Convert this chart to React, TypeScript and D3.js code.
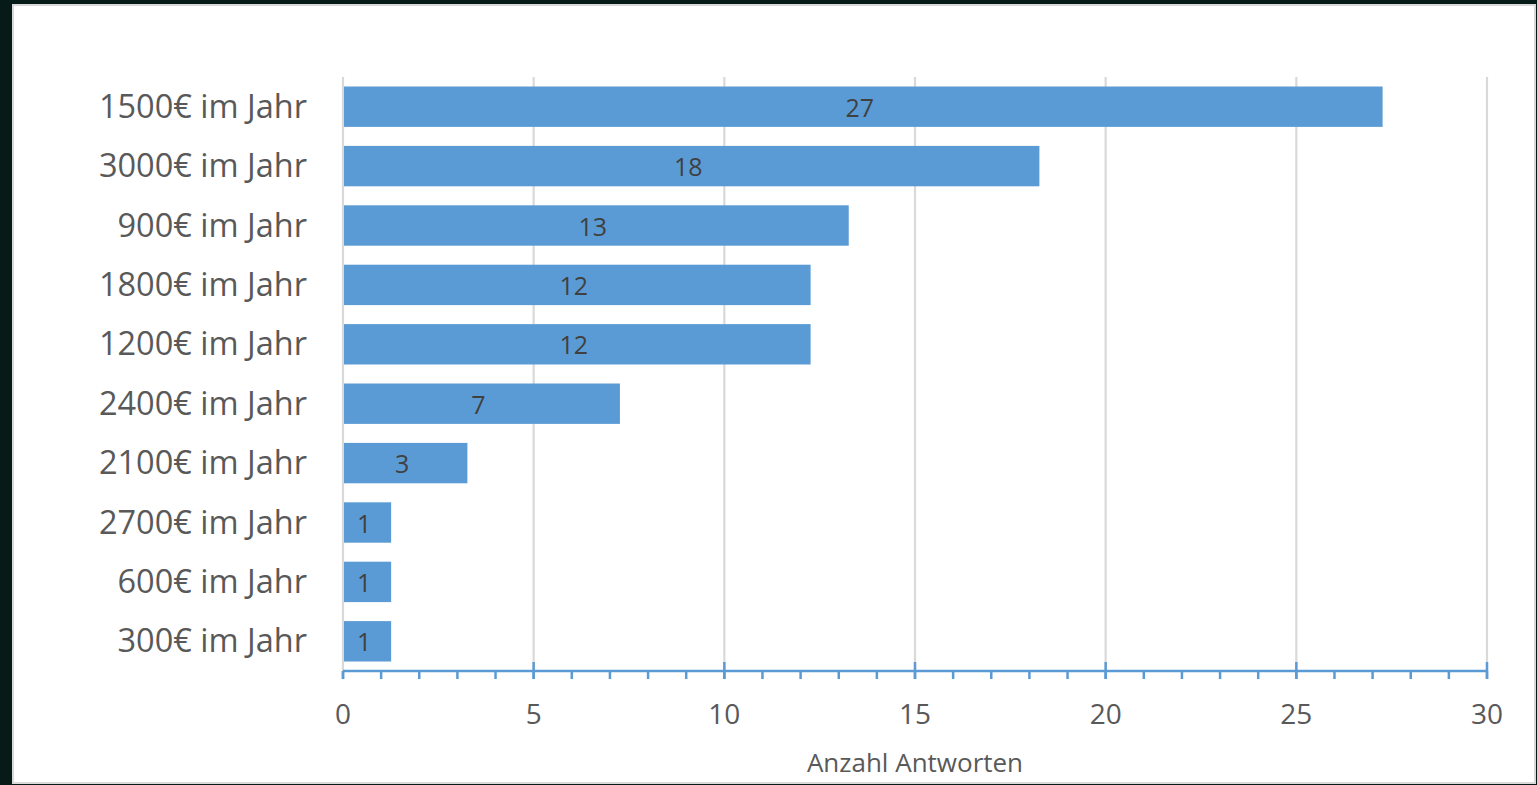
import React from "react";
import * as d3 from "d3";

const categories = [
  "1500€ im Jahr",
  "3000€ im Jahr",
  "900€ im Jahr",
  "1800€ im Jahr",
  "1200€ im Jahr",
  "2400€ im Jahr",
  "2100€ im Jahr",
  "2700€ im Jahr",
  "600€ im Jahr",
  "300€ im Jahr",
];
const values = [27, 18, 13, 12, 12, 7, 3, 1, 1, 1];
const majorTicks = [0, 5, 10, 15, 20, 25, 30];
const minorTicks = d3.range(0, 31, 1);
const axisTitle = "Anzahl Antworten";

const W = 1537;
const H = 785;
const FONT = "'Open Sans', 'Noto Sans', sans-serif";

export default function App() {
  const x = d3.scaleLinear().domain([0, 30]).range([343, 1487]);
  const y = d3
    .scaleBand<string>()
    .domain(categories)
    .range([77, 671])
    .paddingInner(0.32)
    .paddingOuter(0.16);
  const barExtra = 9;
  const axisY = 671;

  return (
    <div style={{ position: "fixed", left: 0, top: 0, width: W, height: H }}>
      <svg width={W} height={H} style={{ display: "block" }}>
        <rect x={0} y={0} width={W} height={H} fill="#061a18" />
        <rect x={13} y={5} width={1522} height={778} fill="#ffffff" stroke="#d9d9d9" strokeWidth={2} />
        {/* gridlines */}
        {majorTicks.map((t) => (
          <line key={"g" + t} x1={x(t)} x2={x(t)} y1={77} y2={axisY} stroke="#d9d9d9" strokeWidth={2.2} />
        ))}
        {/* bars */}
        {categories.map((c, i) => (
          <rect
            key={c}
            x={x(0) + 1}
            y={y(c)}
            width={x(values[i]) - x(0) + barExtra}
            height={y.bandwidth()}
            fill="#5b9bd5"
          />
        ))}
        {/* data labels */}
        {categories.map((c, i) => (
          <text
            key={"l" + c}
            x={(x(0) + x(values[i])) / 2 + 2}
            y={(y(c) as number) + y.bandwidth() / 2 + 1}
            dy="0.36em"
            textAnchor="middle"
            fontFamily={FONT}
            fontSize={25}
            fill="#404040"
          >
            {values[i]}
          </text>
        ))}
        {/* category labels */}
        {categories.map((c) => (
          <text
            key={"c" + c}
            x={307}
            y={(y(c) as number) + y.bandwidth() / 2}
            dy="0.34em"
            textAnchor="end"
            fontFamily={FONT}
            fontSize={32.5}
            fill="#595959"
          >
            {c}
          </text>
        ))}
        {/* x axis */}
        <line x1={x(0)} x2={x(30)} y1={axisY} y2={axisY} stroke="#5b9bd5" strokeWidth={2.5} />
        {minorTicks.map((t) => (
          <line key={"m" + t} x1={x(t)} x2={x(t)} y1={axisY} y2={axisY + 8} stroke="#5b9bd5" strokeWidth={2.5} />
        ))}
        {majorTicks.map((t) => (
          <line key={"M" + t} x1={x(t)} x2={x(t)} y1={t === 0 ? axisY : axisY - 9} y2={axisY + 8} stroke="#5b9bd5" strokeWidth={2.5} />
        ))}
        {majorTicks.map((t) => (
          <text
            key={"t" + t}
            x={x(t)}
            y={714}
            dy="0.36em"
            textAnchor="middle"
            fontFamily={FONT}
            fontSize={28}
            fill="#595959"
          >
            {t}
          </text>
        ))}
        <text
          x={915}
          y={763}
          dy="0.36em"
          textAnchor="middle"
          fontFamily={FONT}
          fontSize={26}
          fill="#595959"
        >
          {axisTitle}
        </text>
      </svg>
    </div>
  );
}
